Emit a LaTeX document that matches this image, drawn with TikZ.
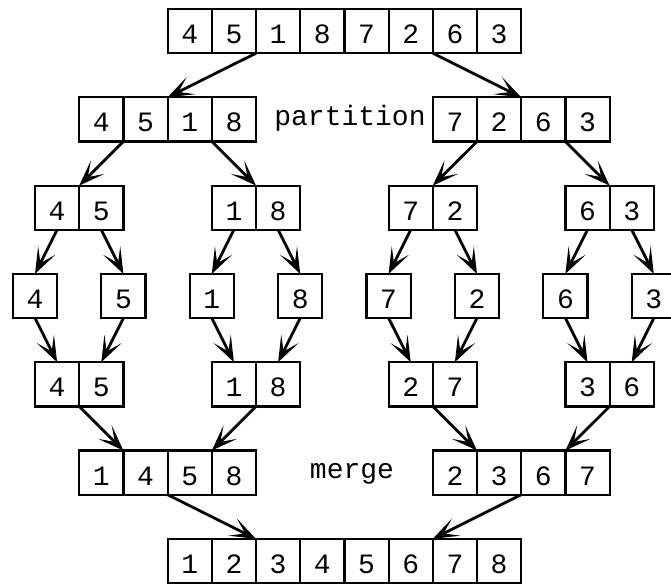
\documentclass[tikz,border=0pt]{standalone}
\usepackage{fontspec}
\setmainfont{Liberation Mono}
\usetikzlibrary{arrows.meta}

% a row of adjacent cells: #1 name prefix, #2 grid column of the left edge,
% #3 top edge, #4 the digits
\newcommand\cellrow[4]{%
  \foreach \d [count=\i] in {#4} {
    \node[cell] (#1\i) at ({35+(#2+\i-1)*44.2}, #3) {\d};
  }%
}

\begin{document}
\begin{tikzpicture}[x=1pt,y=-1pt,
  cell/.style={draw, line width=2.2pt, minimum width=44.2pt, minimum height=44.2pt,
    inner sep=0pt, outer sep=0pt, anchor=north west,
    text height=24.8pt, text depth=0pt, font=\fontsize{28}{28}\selectfont},
  link/.style={line width=2.8pt, -{Stealth[length=26pt,width=19pt,inset=14pt]}},
  note/.style={anchor=base, inner sep=0pt, font=\fontsize{28}{28}\selectfont}]
\useasboundingbox (0,0) rectangle (671,583);

% split phase
\cellrow{t}{3}{9}{4,5,1,8,7,2,6,3}
\cellrow{pl}{1}{97.3}{4,5,1,8}
\cellrow{pr}{9}{97.3}{7,2,6,3}
\cellrow{qa}{0}{185.6}{4,5}
\cellrow{qb}{4}{185.6}{1,8}
\cellrow{qc}{8}{185.6}{7,2}
\cellrow{qd}{12}{185.6}{6,3}
\foreach \d/\k [count=\i] in {4/0,5/2,1/4,8/6,7/8,2/10,6/12,3/14}
  \node[cell] (s\i) at ({35+(\k-0.5)*44.2}, 273.9) {\d};

% merge phase
\cellrow{ma}{0}{362.2}{4,5}
\cellrow{mb}{4}{362.2}{1,8}
\cellrow{mc}{8}{362.2}{2,7}
\cellrow{md}{12}{362.2}{3,6}
\cellrow{nl}{1}{450.5}{1,4,5,8}
\cellrow{nr}{9}{450.5}{2,3,6,7}
\cellrow{f}{3}{538.8}{1,2,3,4,5,6,7,8}

\node[note] (part) at (350,125) {partition};
\node[note] (merge) at (352,478) {merge};

% arrows
\draw[link] (t3.south west) -- (pl3.north west);
\draw[link] (t7.south west) -- (pr3.north west);

\draw[link] (pl2.south west) -- (qa2.north west);
\draw[link] (pl4.south west) -- (qb2.north west);
\draw[link] (pr2.south west) -- (qc2.north west);
\draw[link] (pr4.south west) -- (qd2.north west);

\draw[link] (qa1.south) -- (s1.north);
\draw[link] (qa2.south) -- (s2.north);
\draw[link] (qb1.south) -- (s3.north);
\draw[link] (qb2.south) -- (s4.north);
\draw[link] (qc1.south) -- (s5.north);
\draw[link] (qc2.south) -- (s6.north);
\draw[link] (qd1.south) -- (s7.north);
\draw[link] (qd2.south) -- (s8.north);

\draw[link] (s1.south) -- (ma1.north);
\draw[link] (s2.south) -- (ma2.north);
\draw[link] (s3.south) -- (mb1.north);
\draw[link] (s4.south) -- (mb2.north);
\draw[link] (s5.south) -- (mc1.north);
\draw[link] (s6.south) -- (mc2.north);
\draw[link] (s7.south) -- (md1.north);
\draw[link] (s8.south) -- (md2.north);

\draw[link] (ma2.south west) -- (nl2.north west);
\draw[link] (mb2.south west) -- (nl4.north west);
\draw[link] (mc2.south west) -- (nr2.north west);
\draw[link] (md2.south west) -- (nr4.north west);

\draw[link] (nl3.south west) -- (f3.north west);
\draw[link] (nr3.south west) -- (f7.north west);
\end{tikzpicture}
\end{document}
